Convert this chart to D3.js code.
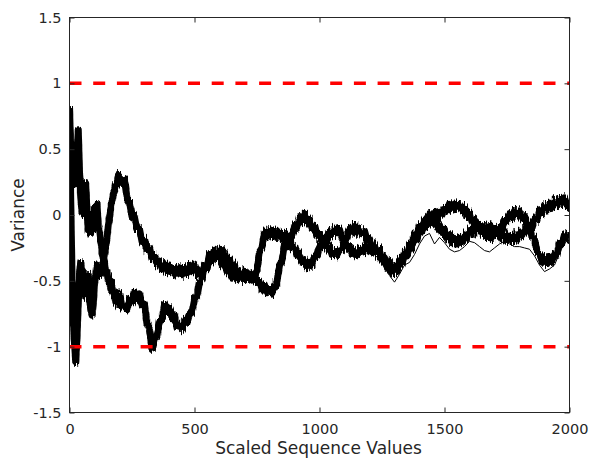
<!DOCTYPE html>
<html>
<head>
<meta charset="utf-8">
<script src="https://cdn.jsdelivr.net/npm/d3@7"></script>
<style>
  html, body { margin: 0; padding: 0; background: #fff; }
  svg { display: block; font-family: "DejaVu Sans", sans-serif; }
</style>
</head>
<body>
<svg id="chart" width="591" height="458"></svg>
<script>
// Sample positions along the scaled sequence: finer where the walks are wild
const positions = d3.range(0, 200, 5).concat(d3.range(200, 2001, 10));

// First running variance trace
const traceP = [
  0.82, 0.50, 0.28, 0.42, 0.22, 0.38, 0.48, 0.64, 0.34, 0.12,
  0.02, 0.22, 0.00, 0.24, 0.02, -0.12, -0.02, -0.14, 0.03, -0.10,
  0.06, -0.04, 0.08, -0.08, -0.12, -0.20, -0.27, -0.33, -0.36, -0.44,
  -0.43, -0.50, -0.48, -0.56, -0.52, -0.60, -0.58, -0.66, -0.62, -0.68,
  -0.60, -0.70, -0.70, -0.72, -0.64, -0.66, -0.58, -0.64, -0.60, -0.69,
  -0.68, -0.82, -0.86, -1.02, -0.95, -0.93, -0.80, -0.79, -0.68, -0.74,
  -0.70, -0.78, -0.76, -0.85, -0.84, -0.87, -0.80, -0.82, -0.75, -0.74,
  -0.64, -0.62, -0.51, -0.49, -0.38, -0.39, -0.30, -0.33, -0.26, -0.31,
  -0.26, -0.32, -0.28, -0.35, -0.33, -0.41, -0.38, -0.46, -0.44, -0.48,
  -0.42, -0.49, -0.46, -0.50, -0.44, -0.52, -0.50, -0.57, -0.53, -0.59,
  -0.56, -0.60, -0.54, -0.51, -0.38, -0.35, -0.22, -0.24, -0.16, -0.17,
  -0.08, -0.10, -0.02, -0.05, 0.01, -0.06, -0.03, -0.10, -0.08, -0.16,
  -0.14, -0.20, -0.17, -0.25, -0.24, -0.30, -0.27, -0.31, -0.26, -0.27,
  -0.18, -0.26, -0.24, -0.30, -0.27, -0.31, -0.26, -0.29, -0.23, -0.28,
  -0.24, -0.28, -0.23, -0.30, -0.28, -0.35, -0.33, -0.40, -0.38, -0.44,
  -0.40, -0.43, -0.36, -0.37, -0.30, -0.31, -0.23, -0.25, -0.17, -0.19,
  -0.11, -0.13, -0.05, -0.08, -0.01, -0.07, -0.04, -0.10, -0.07, -0.14,
  -0.11, -0.18, -0.15, -0.21, -0.17, -0.22, -0.17, -0.21, -0.15, -0.18,
  -0.11, -0.14, -0.08, -0.12, -0.07, -0.12, -0.08, -0.13, -0.08, -0.14,
  -0.10, -0.16, -0.13, -0.18, -0.14, -0.20, -0.16, -0.20, -0.15, -0.19,
  -0.13, -0.16, -0.10, -0.13, -0.07, -0.09, -0.03, -0.04, 0.04, 0.01,
  0.07, 0.03, 0.09, 0.05, 0.11, 0.07, 0.12, 0.08, 0.13, 0.07,
  0.09
];

// Second running variance trace
const traceQ = [
  0.70, 0.10, -0.45, -0.80, -0.98, -1.12, -0.92, -0.68, -0.46, -0.36,
  -0.44, -0.56, -0.46, -0.62, -0.50, -0.46, -0.62, -0.72, -0.76, -0.68,
  -0.52, -0.46, -0.38, -0.44, -0.40, -0.46, -0.38, -0.36, -0.30, -0.24,
  -0.18, -0.08, -0.02, 0.06, 0.10, 0.16, 0.18, 0.24, 0.22, 0.30,
  0.29, 0.24, 0.27, 0.13, 0.10, -0.01, -0.01, -0.11, -0.10, -0.20,
  -0.18, -0.27, -0.25, -0.33, -0.31, -0.38, -0.35, -0.41, -0.37, -0.43,
  -0.38, -0.44, -0.40, -0.45, -0.40, -0.46, -0.40, -0.44, -0.38, -0.43,
  -0.38, -0.45, -0.42, -0.45, -0.38, -0.41, -0.34, -0.35, -0.27, -0.33,
  -0.30, -0.38, -0.36, -0.43, -0.41, -0.48, -0.46, -0.49, -0.43, -0.49,
  -0.45, -0.49, -0.44, -0.50, -0.46, -0.42, -0.28, -0.25, -0.13, -0.17,
  -0.11, -0.16, -0.12, -0.17, -0.13, -0.18, -0.14, -0.20, -0.17, -0.25,
  -0.24, -0.31, -0.29, -0.36, -0.34, -0.40, -0.36, -0.38, -0.31, -0.31,
  -0.23, -0.24, -0.17, -0.19, -0.12, -0.15, -0.10, -0.15, -0.11, -0.18,
  -0.16, -0.17, -0.10, -0.13, -0.08, -0.13, -0.10, -0.15, -0.12, -0.19,
  -0.18, -0.24, -0.22, -0.28, -0.26, -0.33, -0.31, -0.37, -0.35, -0.41,
  -0.38, -0.40, -0.34, -0.35, -0.28, -0.29, -0.22, -0.23, -0.15, -0.16,
  -0.08, -0.10, -0.03, -0.05, 0.01, -0.03, 0.02, -0.03, 0.02, 0.00,
  0.06, 0.03, 0.08, 0.05, 0.09, 0.05, 0.08, 0.03, 0.06, -0.01,
  0.02, -0.05, -0.03, -0.10, -0.08, -0.14, -0.12, -0.17, -0.14, -0.18,
  -0.13, -0.15, -0.09, -0.10, -0.04, -0.05, 0.01, -0.02, 0.04, 0.00,
  0.03, -0.03, 0.00, -0.07, -0.07, -0.17, -0.18, -0.28, -0.29, -0.35,
  -0.33, -0.37, -0.32, -0.36, -0.30, -0.30, -0.21, -0.22, -0.15, -0.18,
  -0.13
];

// A lone run that drifts just under the bundle in the second half
const lonePositions = d3.range(1200, 2001, 20);
const loneTrace = [
  -0.28, -0.30, -0.34, -0.40, -0.46, -0.51, -0.45, -0.38, -0.36, -0.30,
  -0.22, -0.16, -0.14, -0.22, -0.17, -0.21, -0.26, -0.28, -0.27, -0.24,
  -0.20, -0.21, -0.24, -0.27, -0.28, -0.25, -0.22, -0.20, -0.22, -0.24,
  -0.24, -0.25, -0.26, -0.31, -0.38, -0.43, -0.41, -0.38, -0.29, -0.21,
  -0.19
];

// Control limits
const limits = [1, -1];

const xTicks = [0, 500, 1000, 1500, 2000];
const yTicks = [-1.5, -1, -0.5, 0, 0.5, 1, 1.5];

const svg = d3.select("#chart");
const plotLeft = 69.5, plotRight = 569.5, plotTop = 17.5, plotBottom = 412.5;

const x = d3.scaleLinear().domain([0, 2000]).range([plotLeft, plotRight]);
const y = d3.scaleLinear().domain([-1.5, 1.5]).range([plotBottom, plotTop]);

const fmt = d => String(d);
const axisColor = "#262626";

const defs = svg.append("defs");
defs.append("clipPath").attr("id", "plot-clip")
  .append("rect").attr("x", plotLeft).attr("y", plotTop)
  .attr("width", plotRight - plotLeft).attr("height", plotBottom - plotTop);

// Ragged edge for the heavy bundles: vertical-only jitter of the stroke
const rough = defs.append("filter").attr("id", "ragged")
  .attr("filterUnits", "userSpaceOnUse")
  .attr("x", 0).attr("y", 0).attr("width", 591).attr("height", 458);
rough.append("feTurbulence")
  .attr("type", "fractalNoise").attr("baseFrequency", "0.9 0.12")
  .attr("numOctaves", 2).attr("seed", 7).attr("result", "noise");
rough.append("feColorMatrix").attr("in", "noise").attr("type", "matrix")
  .attr("values", "0 0 0 0 0.5  0 1 0 0 0  0 0 1 0 0  0 0 0 0 1")
  .attr("result", "shift");
rough.append("feDisplacementMap")
  .attr("in", "SourceGraphic").attr("in2", "shift")
  .attr("scale", 11).attr("xChannelSelector", "R").attr("yChannelSelector", "G");

const plot = svg.append("g").attr("clip-path", "url(#plot-clip)");
const bundles = plot.append("g").attr("filter", "url(#ragged)");

const line = d3.line().x(d => x(d[0])).y(d => y(d[1]));

[traceP, traceQ].forEach(tr => {
  bundles.append("path")
    .datum(positions.map((p, i) => [p, tr[i]]))
    .attr("d", line)
    .attr("fill", "none")
    .attr("stroke", "#000")
    .attr("stroke-width", 7)
    .attr("stroke-linejoin", "round");
});

plot.append("path")
  .datum(lonePositions.map((p, i) => [p, loneTrace[i]]))
  .attr("d", line)
  .attr("fill", "none")
  .attr("stroke", "#000")
  .attr("stroke-width", 1)
  .attr("stroke-linejoin", "round");

// Dashed limits on top
plot.selectAll(".limit").data(limits).enter().append("line")
  .attr("class", "limit")
  .attr("x1", x(0)).attr("x2", x(2000))
  .attr("y1", d => y(d)).attr("y2", d => y(d))
  .attr("stroke", "#ff0000")
  .attr("stroke-width", 3.5)
  .attr("stroke-dasharray", "12,11.7");

// Axes with inward ticks on all four sides
const styleAxis = g => {
  g.select(".domain").remove();
  g.selectAll(".tick line").attr("stroke", axisColor).attr("stroke-width", 1);
  g.selectAll(".tick text").attr("fill", axisColor)
    .style("font-family", "'DejaVu Sans', sans-serif").style("font-size", "14.5px");
};

svg.append("g").attr("transform", `translate(0,${plotBottom})`)
  .call(d3.axisBottom(x).tickValues(xTicks).tickFormat(fmt).tickSizeInner(-5).tickSizeOuter(0).tickPadding(11.5))
  .call(styleAxis);
svg.append("g").attr("transform", `translate(0,${plotTop})`)
  .call(d3.axisTop(x).tickValues(xTicks).tickFormat("").tickSizeInner(-5).tickSizeOuter(0))
  .call(styleAxis);
svg.append("g").attr("transform", `translate(${plotLeft},0)`)
  .call(d3.axisLeft(y).tickValues(yTicks).tickFormat(fmt).tickSizeInner(-5).tickSizeOuter(0).tickPadding(8))
  .call(styleAxis);
svg.append("g").attr("transform", `translate(${plotRight},0)`)
  .call(d3.axisRight(y).tickValues(yTicks).tickFormat("").tickSizeInner(-5).tickSizeOuter(0))
  .call(styleAxis);

svg.append("rect")
  .attr("x", plotLeft).attr("y", plotTop)
  .attr("width", plotRight - plotLeft).attr("height", plotBottom - plotTop)
  .attr("fill", "none").attr("stroke", axisColor).attr("stroke-width", 1);

svg.append("text")
  .attr("x", (plotLeft + plotRight) / 2 - 1).attr("y", 453.5)
  .attr("text-anchor", "middle")
  .attr("fill", axisColor)
  .style("font-size", "17px")
  .text("Scaled Sequence Values");

svg.append("text")
  .attr("transform", `translate(24,${(plotTop + plotBottom) / 2}) rotate(-90)`)
  .attr("text-anchor", "middle")
  .attr("fill", axisColor)
  .style("font-size", "17px")
  .text("Variance");
</script>
</body>
</html>
